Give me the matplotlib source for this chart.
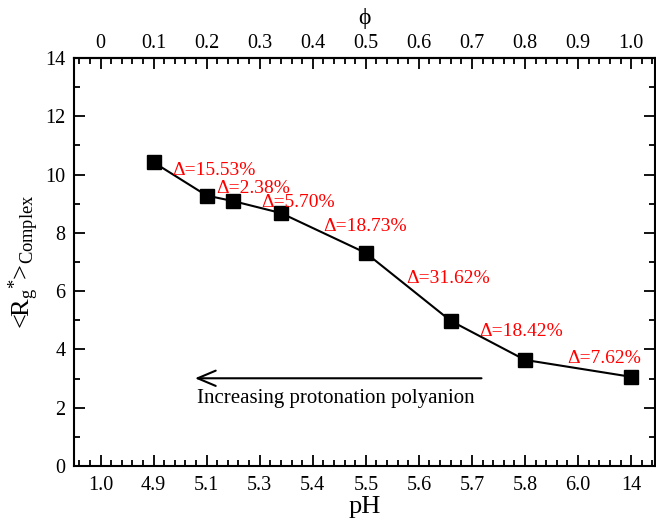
import matplotlib
matplotlib.use("Agg")
import matplotlib.pyplot as plt
from matplotlib.ticker import MultipleLocator

plt.rcParams['font.family'] = ['Liberation Serif', 'DejaVu Serif']
plt.rcParams['mathtext.fontset'] = 'custom'
plt.rcParams['mathtext.rm'] = 'Liberation Serif'
plt.rcParams['mathtext.it'] = 'Liberation Serif:italic'

# data
phi = [0.1, 0.2, 0.25, 0.34, 0.5, 0.66, 0.8, 1.0]
rg = [10.42, 9.28, 9.09, 8.68, 7.31, 4.98, 3.64, 3.06]
delta_labels = ['Δ=15.53%', 'Δ=2.38%', 'Δ=5.70%', 'Δ=18.73%',
                'Δ=31.62%', 'Δ=18.42%', 'Δ=7.62%']
delta_x = [0.135, 0.219, 0.302, 0.419, 0.576, 0.713, 0.879]
delta_y = [10.0, 9.38, 8.90, 8.07, 6.27, 4.46, 3.52]
phi_ticks = [0.0, 0.1, 0.2, 0.3, 0.4, 0.5, 0.6, 0.7, 0.8, 0.9, 1.0]
phi_labels = ['0', '0.1', '0.2', '0.3', '0.4', '0.5', '0.6', '0.7', '0.8', '0.9', '1.0']
ph_labels = ['1.0', '4.9', '5.1', '5.3', '5.4', '5.5', '5.6', '5.7', '5.8', '6.0', '14']

fig = plt.figure(figsize=(6.56, 5.23), dpi=100)
ax = fig.add_axes([74/656, 1-466/523, 581/656, 408/523])

ax.plot(phi, rg, color='black', lw=1.5, marker='s', ms=9.5,
        markerfacecolor='black', markeredgecolor='black', zorder=3)

for t, x, y in zip(delta_labels, delta_x, delta_y):
    ax.text(x, y, t, color='red', fontsize=14, ha='left', va='baseline')

ax.annotate('', xy=(0.178, 3.01), xytext=(0.718, 3.01),
            arrowprops=dict(arrowstyle='->,head_length=1.3,head_width=0.55',
                            color='black', lw=1.5, shrinkA=0, shrinkB=0))
ax.text(0.181, 2.15, 'Increasing protonation polyanion', fontsize=15,
        ha='left', va='baseline', color='black')

ax.set_xlim(-0.05, 1.045)
ax.set_ylim(0, 14)
ax.set_xticks(phi_ticks)
ax.set_xticklabels(ph_labels)
ax.xaxis.set_minor_locator(MultipleLocator(0.02))
ax.yaxis.set_major_locator(MultipleLocator(2))
ax.yaxis.set_minor_locator(MultipleLocator(1))
ax.tick_params(which='both', direction='in', right=True, top=False,
               labelsize=14.5, width=1.3)
ax.tick_params(which='major', length=8, pad=6)
ax.tick_params(which='minor', length=4)
ax.tick_params(axis='x', which='major', pad=7)
for s in ax.spines.values():
    s.set_linewidth(1.5)

sec = ax.secondary_xaxis('top')
sec.set_xticks(phi_ticks)
sec.set_xticklabels(phi_labels)
sec.xaxis.set_minor_locator(MultipleLocator(0.02))
sec.tick_params(which='both', direction='in', labelsize=14.5, width=1.3)
sec.tick_params(which='major', length=8, pad=3.5)
sec.tick_params(which='minor', length=4)
sec.spines['top'].set_linewidth(1.5)
sec.set_xlabel('ϕ', fontsize=17, labelpad=7)

ax.set_xlabel('pH', fontsize=19, labelpad=1)
ax.set_ylabel(r'<R$_\mathrm{g}$$^{*}$>$_\mathrm{Complex}$', fontsize=19, labelpad=3)

fig.savefig('out.png', dpi=100)
